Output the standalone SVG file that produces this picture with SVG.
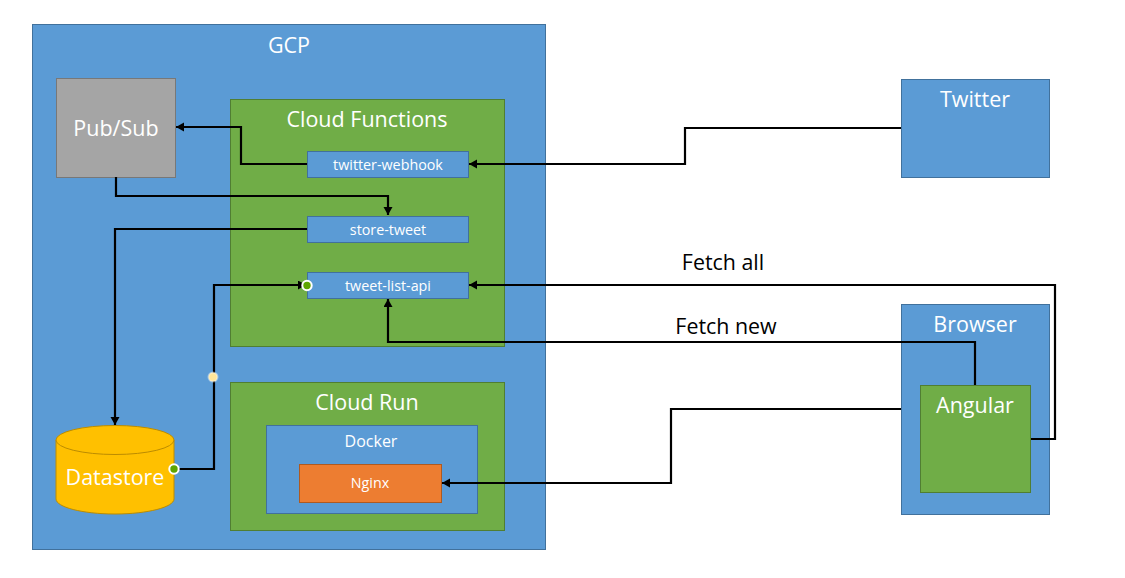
<svg xmlns="http://www.w3.org/2000/svg" width="1125" height="578" viewBox="0 0 1125 578">
<style>
.b{fill:#5b9bd5;stroke:#41719c;stroke-width:1}
.g{fill:#70ad47;stroke:#507e32;stroke-width:1}
text{font-family:"Open Sans","Noto Sans",sans-serif;fill:#fff;text-anchor:middle}
.t{font-size:21.500px}
.s{font-size:14.300px}
.k{fill:#000;font-size:21.400px}
.c{fill:none;stroke:#000;stroke-width:2.200}
</style>
<defs><marker id="a" markerUnits="userSpaceOnUse" markerWidth="10" markerHeight="10" refX="8" refY="4.500" orient="auto"><path d="M0 0L8 4.500L0 9Z" fill="#000"/></marker></defs>
<rect width="1125" height="578" fill="#fff"/>
<g id="gcp"><rect class="b" x="32.500" y="24.500" width="513" height="525"/><text class="t" x="289" y="53">GCP</text></g>
<g id="pubsub"><rect x="56.500" y="78.500" width="119" height="99" fill="#a5a5a5" stroke="#787878"/><text class="t" x="116" y="136">Pub/Sub</text></g>
<g id="cloud-functions"><rect class="g" x="230.500" y="99.500" width="274" height="247"/><text class="t" x="367" y="127">Cloud Functions</text></g>
<g id="twitter-webhook"><rect class="b" x="307.500" y="151.500" width="161" height="26"/><text class="s" x="388" y="169.500">twitter-webhook</text></g>
<g id="store-tweet"><rect class="b" x="307.500" y="216.500" width="161" height="26"/><text class="s" x="388" y="234.500">store-tweet</text></g>
<g id="tweet-list-api"><rect class="b" x="307.500" y="272.500" width="161" height="26"/><text class="s" x="388" y="290.500">tweet-list-api</text></g>
<g id="cloud-run"><rect class="g" x="230.500" y="382.500" width="274" height="148"/><text class="t" x="367" y="410">Cloud Run</text></g>
<g id="docker"><rect class="b" x="266.500" y="425.500" width="211" height="88"/><text x="371" y="447" font-size="16">Docker</text></g>
<g id="nginx"><rect x="299.500" y="464.500" width="142" height="38" fill="#ed7d31" stroke="#ae5a21"/><text class="s" x="370" y="488">Nginx</text></g>
<g id="datastore"><path d="M56 440V499C56 507 82 514 115 514S174 507 174 499V440Z" fill="#ffc000" stroke="#bc8c00"/><ellipse cx="115" cy="440" rx="59" ry="14.500" fill="#ffc000" stroke="#bc8c00"/><text class="t" x="115" y="485">Datastore</text></g>
<g id="twitter"><rect class="b" x="901.500" y="79.500" width="148" height="98"/><text class="t" x="975" y="107">Twitter</text></g>
<g id="browser"><rect class="b" x="901.500" y="304.500" width="148" height="210"/><text class="t" x="975" y="332">Browser</text></g>
<g id="angular"><rect class="g" x="920.500" y="385.500" width="110" height="107"/><text class="t" x="975" y="413">Angular</text></g>
<g id="connectors">
<path class="c" marker-end="url(#a)" d="M307 164H241V127H176"/>
<path class="c" marker-end="url(#a)" d="M901 128H685V164H469"/>
<path class="c" marker-end="url(#a)" d="M116 177V196H388V215"/>
<path class="c" marker-end="url(#a)" d="M307 229H115V425"/>
<path class="c" marker-end="url(#a)" d="M179 469H214V285H306"/>
<path class="c" marker-end="url(#a)" d="M1031 439H1055V285H469"/>
<path class="c" marker-end="url(#a)" d="M975 385V342H388V299"/>
<path class="c" marker-end="url(#a)" d="M901 409H671V483H442"/>
<circle cx="307" cy="285.500" r="4.700" fill="#5ea500" stroke="#fff" stroke-width="2"/>
<circle cx="174" cy="469" r="4.700" fill="#5ea500" stroke="#fff" stroke-width="2"/>
<circle cx="213" cy="377" r="4.500" fill="#ffe699" stroke="#fff" stroke-opacity=".4" stroke-width="2"/>
</g>
<text class="k" x="723" y="269.500">Fetch all</text>
<text class="k" x="726" y="333.500">Fetch new</text>
</svg>
